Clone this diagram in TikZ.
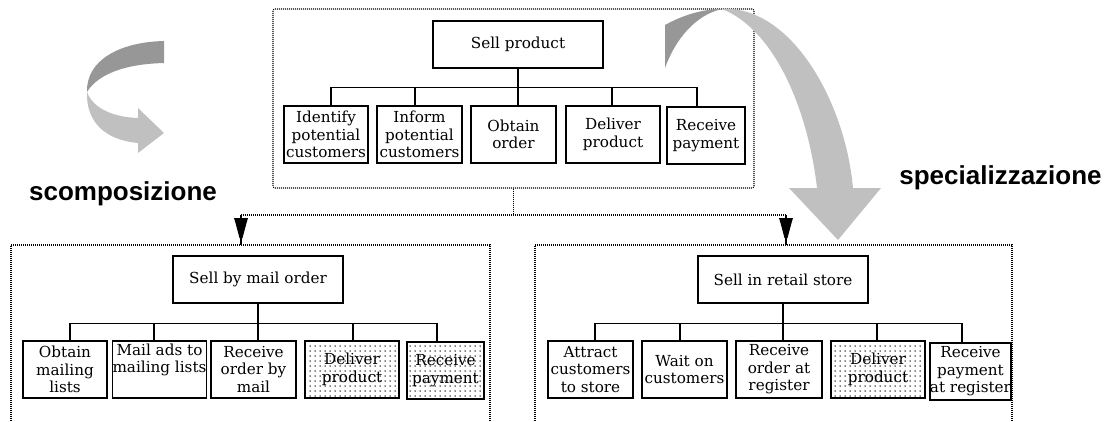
\documentclass[tikz,border=0pt]{standalone}
\usepackage{fontspec}
\setmainfont{DejaVu Serif}
\newfontfamily\labelfont{Liberation Sans}
\usetikzlibrary{patterns.meta}
\definecolor{ribdark}{HTML}{979797}
\definecolor{riblight}{HTML}{C0C0C0}
\begin{document}
\begin{tikzpicture}[x=1pt,y=-1pt,
  box/.style={draw=black,line width=1.3pt,inner sep=0pt,align=center,
    font=\fontsize{15.2}{17.5}\selectfont},
  dotbox/.style={box,pattern={Dots[distance=5pt,radius=0.75pt]}},
  dotline/.style={draw=black,line width=1.1pt,dash pattern=on 1pt off 1pt},
  tree/.style={draw=black,line width=1.3pt},
  stem/.style={draw=black,line width=1.6pt},
  lbl/.style={font=\labelfont\bfseries\fontsize{26}{28}\selectfont,anchor=base,inner sep=0pt},
  funnel/.pic={\fill[black] (-7,3) -- (7,3) -- (5.5,8) -- (1.5,23) -- (-1.5,23) -- (-5.5,8) -- cycle;}
]
\useasboundingbox (0,0) rectangle (1114,421);

% ---------- top container ----------
\node[dotline,rounded corners=2pt,minimum width=481pt,minimum height=179pt,inner sep=0pt] (top) at (513.5,98.5) {};
\node[box,minimum width=170pt,minimum height=47pt] (sp) at (518,44.5) {Sell product};
\node[box,minimum width=84pt,minimum height=57pt] (t1) at (326,134.5) {Identify\\potential\\customers};
\node[box,minimum width=85pt,minimum height=57pt] (t2) at (419.5,134.5) {Inform\\potential\\customers};
\node[box,minimum width=85pt,minimum height=57pt] (t3) at (513.5,134.5) {Obtain\\order};
\node[box,minimum width=94pt,minimum height=57pt] (t4) at (613,134.5) {Deliver\\product};
\node[box,minimum width=78pt,minimum height=57pt] (t5) at (706,135.5) {Receive\\payment};
\draw[tree] (sp.south) -- ++(0,19) -| ([xshift=5pt]t1.north);
\draw[tree] (sp.south) -- ++(0,19) -| ([xshift=-4.5pt]t2.north);
\draw[tree] (sp.south) -- ++(0,19) -| ([xshift=4.5pt]t3.north);
\draw[tree] (sp.south) -- ++(0,19) -| ([xshift=-1pt]t4.north);
\draw[tree] (sp.south) -- ++(0,19) -| ([xshift=-9pt]t5.north);

% ---------- bottom-left container ----------
\coordinate (blc) at (250.5,245);
\draw[dotline] (11,421) -- (11,245) -- (490,245) -- (490,421);
\node[box,minimum width=170pt,minimum height=47pt] (ml) at (258,279.5) {Sell by mail order};
\node[box,minimum width=84pt,minimum height=57pt] (l1) at (65,369.5) {Obtain\\mailing\\lists};
\node[box,minimum width=85pt,minimum height=57pt] (l2) at (159.5,369.5) {Mail ads to\\mailing lists\\\strut};
\node[box,minimum width=85pt,minimum height=57pt] (l3) at (253.5,369.5) {Receive\\order by\\mail};
\node[dotbox,minimum width=94pt,minimum height=57pt] (l4) at (352,369.5) {Deliver\\product};
\node[dotbox,minimum width=77pt,minimum height=57pt] (l5) at (445.5,370.5) {Receive\\payment};
\draw[tree] (ml.south) -- ++(0,20) -| ([xshift=5pt]l1.north);
\draw[tree] (ml.south) -- ++(0,20) -| ([xshift=-5.5pt]l2.north);
\draw[tree] (ml.south) -- ++(0,20) -| ([xshift=4.5pt]l3.north);
\draw[tree] (ml.south) -- ++(0,20) -| ([xshift=1pt]l4.north);
\draw[tree] (ml.south) -- ++(0,20) -| ([xshift=-8.5pt]l5.north);

% ---------- bottom-right container ----------
\coordinate (brc) at (773.5,245);
\draw[dotline] (535,421) -- (535,245) -- (1012,245) -- (1012,421);
\node[box,minimum width=170pt,minimum height=47pt] (rs) at (783,279.5) {Sell in retail store};
\node[box,minimum width=85pt,minimum height=57pt] (r1) at (590.5,369.5) {Attract\\customers\\to store};
\node[box,minimum width=85pt,minimum height=57pt] (r2) at (684.5,369.5) {Wait on\\customers};
\node[box,minimum width=86pt,minimum height=57pt] (r3) at (779,369.5) {Receive\\order at\\register};
\node[dotbox,minimum width=94pt,minimum height=57pt] (r4) at (878,369.5) {Deliver\\product};
\node[box,minimum width=77pt,minimum height=57pt] (r5) at (970.5,371.5) {Receive\\payment\\at register};
\draw[tree] (rs.south) -- ++(0,20) -| ([xshift=4.5pt]r1.north);
\draw[tree] (rs.south) -- ++(0,20) -| ([xshift=-4.5pt]r2.north);
\draw[tree] (rs.south) -- ++(0,20) -| ([xshift=4pt]r3.north);
\draw[tree] (rs.south) -- ++(0,20) -| ([xshift=-1pt]r4.north);
\draw[tree] (rs.south) -- ++(0,20) -| ([xshift=-8.5pt]r5.north);

% ---------- connector top -> bottom ----------
\coordinate (jl) at (241,215);
\coordinate (jr) at (786,215);
\draw[dotline] (top.south) -- (top.south |- jl);
\draw[dotline] (jl) -- (jr);
\draw[stem] (jl) -- (jl |- blc);
\draw[stem] (jr) -- (jr |- brc);
\pic at (jl) {funnel};
\pic at (jr) {funnel};

% ---------- labels ----------
\node[lbl] (lab1) at (123,200) {scomposizione};
\node[lbl] (lab2) at (1000.5,184) {specializzazione};

% ---------- gray ribbon arrows ----------
\fill[riblight] (87,92) .. controls (93,108) and (112,117) .. (138,118) -- (138,108) -- (164,133) -- (138,153) -- (138,143) .. controls (105,140) and (86,122) .. (87,92) -- cycle;
\fill[ribdark] (164,41) .. controls (120,42) and (86,60) .. (87,92) .. controls (98,74) and (125,64) .. (164,63) -- cycle;

\fill[riblight] (722,9) .. controls (790,5) and (845,100) .. (853,188) -- (881,188) -- (838,240) -- (789,188) -- (817,188) .. controls (808,110) and (775,30) .. (722,9) -- cycle;
\fill[ribdark] (665,25) .. controls (683,15) and (703,9) .. (722,9) .. controls (695,15) and (675,40) .. (665,68) -- cycle;
\end{tikzpicture}
\end{document}
